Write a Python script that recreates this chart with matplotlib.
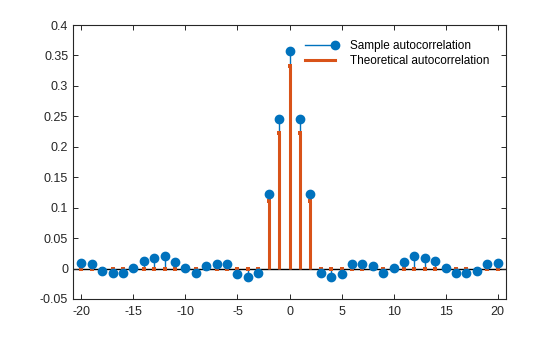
import numpy as np
import matplotlib
matplotlib.use("Agg")
import matplotlib.pyplot as plt
from matplotlib.lines import Line2D
from matplotlib.legend_handler import HandlerLine2D

plt.rcParams['font.family'] = ['Liberation Sans', 'DejaVu Sans']

# Lags and autocorrelation estimates
lags = np.arange(-20, 21)
sample_right = [0.358, 0.245, 0.122, -0.007, -0.014, -0.009, 0.008, 0.008, 0.004,
                -0.007, 0.001, 0.010, 0.021, 0.017, 0.013, 0.001, -0.007, -0.007,
                -0.004, 0.0077, 0.0093]
sample_acf = sample_right[:0:-1] + sample_right
theory_right = [0.333, 0.222, 0.111] + [0.0] * 18
theory_acf = theory_right[:0:-1] + theory_right

x_ticks = list(range(-20, 21, 5))
y_ticks = [-0.05, 0, 0.05, 0.1, 0.15, 0.2, 0.25, 0.3, 0.35, 0.4]
y_tick_labels = ['-0.05', '0', '0.05', '0.1', '0.15', '0.2', '0.25', '0.3', '0.35', '0.4']

blue = '#0072BD'
orange = '#D95319'
dark = '#262626'

fig = plt.figure(figsize=(5.6, 3.37), dpi=100)
ax = fig.add_axes([0.1304, 0.1128, 0.7732, 0.813])

# baseline
ax.axhline(0, color='black', lw=1.0, zorder=1)

# sample autocorrelation stems
ax.vlines(lags, 0, sample_acf, color=blue, lw=1.0, zorder=2)
ax.plot(lags, sample_acf, 'o', color=blue, ms=6, mec=blue, zorder=4)

# theoretical autocorrelation stems
ax.vlines(lags, 0, theory_acf, color=orange, lw=2.2, zorder=3)
ax.plot(lags, theory_acf, 's', color=orange, ms=2.2, mew=0, zorder=3)

ax.set_xlim(-20.8, 20.8)
ax.set_ylim(-0.05, 0.4)
ax.set_xticks(x_ticks)
ax.set_xticklabels([str(t) for t in x_ticks])
ax.set_yticks(y_ticks)
ax.set_yticklabels(y_tick_labels)
ax.tick_params(direction='in', top=True, right=True, length=3.5, width=0.7,
               colors=dark, labelsize=9, labelcolor=dark)
ax.tick_params(axis='x', pad=5)
ax.tick_params(axis='y', pad=3.5)
for s in ax.spines.values():
    s.set_color(dark)
    s.set_linewidth(0.8)


class EndMarkerHandler(HandlerLine2D):
    def create_artists(self, legend, orig_handle, xdescent, ydescent,
                       width, height, fontsize, trans):
        arts = super().create_artists(legend, orig_handle, xdescent, ydescent,
                                      width, height, fontsize, trans)
        arts[0].set_markevery([2])
        return arts


h_sample = Line2D([], [], color=blue, lw=1.0, marker='o', ms=6, mfc=blue, mec=blue)
h_theory = Line2D([], [], color=orange, lw=2.2)
ax.legend([h_sample, h_theory], ['Sample autocorrelation', 'Theoretical autocorrelation'],
          handler_map={h_sample: EndMarkerHandler(numpoints=1)},
          loc='upper left', bbox_to_anchor=(0.536, 0.946), frameon=False,
          fontsize=8.5, handlelength=2.55, handletextpad=1.25, labelspacing=0.3,
          borderpad=0, borderaxespad=0, labelcolor='black')

fig.savefig('out.png', dpi=100)
